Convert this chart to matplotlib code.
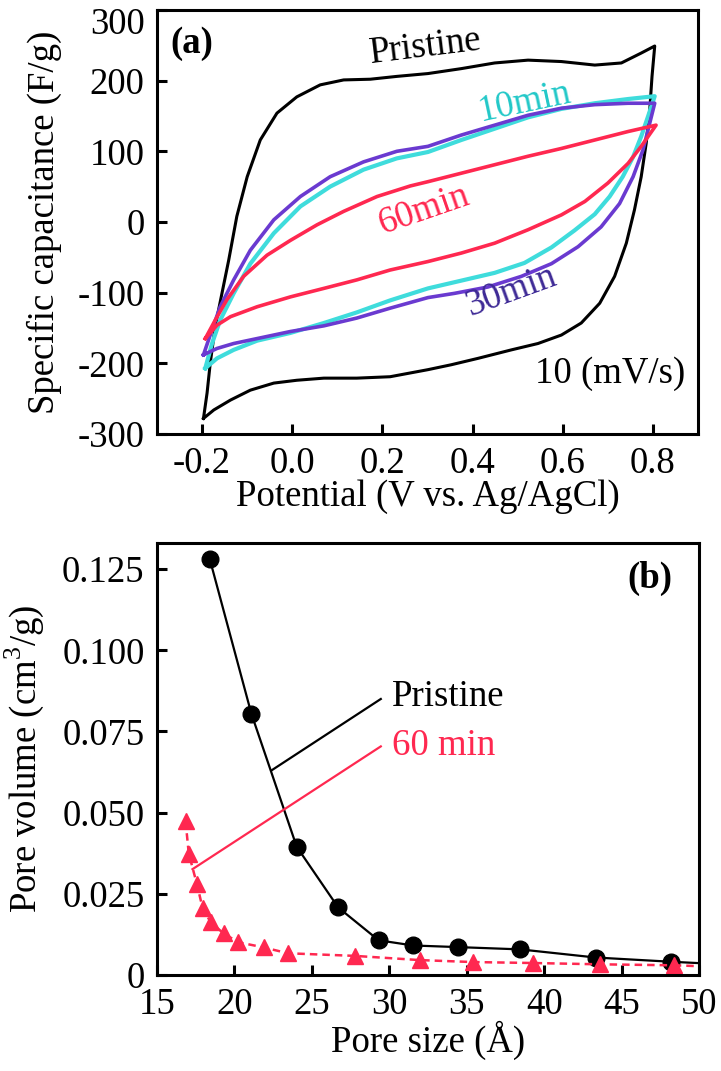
import matplotlib
matplotlib.use("Agg")
import matplotlib.pyplot as plt
import matplotlib.transforms as mtransforms

plt.rcParams['font.family'] = ['Liberation Serif', 'DejaVu Serif']
plt.rcParams['mathtext.fontset'] = 'custom'
plt.rcParams['mathtext.rm'] = 'Liberation Serif'

# ---------------- Panel (a) CV data (closed loops) ----------------
pristine_v = [-0.197, -0.189, -0.182, -0.171, -0.156, -0.141, -0.123, -0.100, -0.071, -0.034,
              0.010, 0.062, 0.114, 0.173, 0.232, 0.301, 0.375, 0.449, 0.523, 0.597, 0.671,
              0.730, 0.774, 0.804,
              0.798, 0.793, 0.785, 0.774, 0.759, 0.741, 0.715, 0.682, 0.641, 0.597, 0.545,
              0.486, 0.412, 0.353, 0.301, 0.217, 0.143, 0.070, 0.010, -0.041, -0.093,
              -0.137, -0.174, -0.197]
pristine_c = [-278, -242, -200, -148, -101, -54, 8, 64, 116, 154,
              177, 194, 201, 202, 206, 210, 217, 225, 229, 227, 222,
              225, 239, 249,
              206, 159, 111, 64, 17, -30, -77, -115, -143, -160, -172,
              -181, -193, -202, -209, -219, -221, -221, -224, -228, -238,
              -252, -266, -278]

min10_v = [-0.193, -0.178, -0.160, -0.130, -0.093, -0.041, 0.018, 0.084, 0.158, 0.232,
           0.301, 0.375, 0.449, 0.523, 0.597, 0.671, 0.745, 0.804,
           0.789, 0.774, 0.756, 0.733, 0.704, 0.671, 0.626, 0.575, 0.515, 0.449, 0.375,
           0.301, 0.217, 0.143, 0.070, -0.004, -0.078, -0.130, -0.167, -0.193]
min10_c = [-207, -172, -139, -101, -59, -16, 22, 50, 74, 90,
           99, 116, 132, 148, 160, 168, 174, 178,
           149, 121, 92, 64, 36, 11, -12, -36, -58, -72, -83,
           -94, -111, -128, -143, -157, -168, -181, -193, -207]

min30_v = [-0.197, -0.182, -0.160, -0.130, -0.093, -0.041, 0.018, 0.084, 0.158, 0.232,
           0.301, 0.375, 0.449, 0.523, 0.597, 0.671, 0.745, 0.804,
           0.793, 0.778, 0.756, 0.726, 0.685, 0.634, 0.575, 0.508, 0.434, 0.360,
           0.301, 0.217, 0.143, 0.070, -0.004, -0.078, -0.130, -0.167, -0.197]
min30_c = [-188, -160, -120, -82, -40, 3, 36, 64, 85, 100,
           107, 123, 137, 151, 161, 166, 168, 168,
           140, 102, 64, 26, -7, -35, -59, -77, -92, -101,
           -107, -122, -136, -147, -155, -165, -172, -179, -188]

min60_v = [-0.193, -0.171, -0.145, -0.108, -0.056, -0.004, 0.055, 0.114, 0.188, 0.262,
           0.301, 0.375, 0.449, 0.523, 0.597, 0.671, 0.745, 0.807,
           0.774, 0.745, 0.700, 0.649, 0.597, 0.523, 0.449, 0.375,
           0.301, 0.217, 0.143, 0.070, -0.004, -0.078, -0.137, -0.167, -0.193]
min60_c = [-165, -139, -110, -77, -47, -26, -4, 15, 36, 51,
           57, 69, 81, 93, 104, 116, 128, 137,
           107, 83, 55, 29, 10, -11, -30, -44,
           -56, -68, -82, -94, -106, -120, -134, -146, -165]

# ---------------- Panel (b) pore size distribution ----------------
pristine_size = [18.41, 21.09, 24.02, 26.70, 29.31, 31.54, 34.45, 38.45, 43.32, 48.16]
pristine_vol = [0.128, 0.0805, 0.0395, 0.0208, 0.0107, 0.0091, 0.0086, 0.0079, 0.0054, 0.0041]
pristine_tail_size = [48.16, 52.0]
pristine_tail_vol = [0.0041, 0.0032]

min60_size = [16.84, 17.05, 17.58, 17.94, 18.47, 19.30, 20.25, 21.89, 23.46, 27.77,
              31.98, 35.40, 39.31, 43.62, 48.37]
min60_vol = [0.0475, 0.0374, 0.0279, 0.0207, 0.0162, 0.0128, 0.0101, 0.0085, 0.0067, 0.0059,
             0.0046, 0.0040, 0.0037, 0.0033, 0.0030]
min60_tail_size = [48.37, 52.0]
min60_tail_vol = [0.0030, 0.0024]

xticks_a = [-0.2, 0.0, 0.2, 0.4, 0.6, 0.8]
xticklabels_a = ['-0.2', '0.0', '0.2', '0.4', '0.6', '0.8']
yticks_a = [-300, -200, -100, 0, 100, 200, 300]
xticks_b = [15, 20, 25, 30, 35, 40, 45, 50]
yticks_b = [0, 0.025, 0.050, 0.075, 0.100, 0.125]
yticklabels_b = ['0', '0.025', '0.050', '0.075', '0.100', '0.125']

RED = '#ff2850'
CYAN = '#3fdcdc'
PURPLE = '#6a3ad0'

fig = plt.figure(figsize=(7.21, 10.71), dpi=100)
ax1 = fig.add_axes([0.2178, 0.5948, 0.7503, 0.3959])
ax2 = fig.add_axes([0.2178, 0.0896, 0.7517, 0.4033])

FS = 26.5
for ax in (ax1, ax2):
    for s in ax.spines.values():
        s.set_linewidth(2.2)
    ax.tick_params(direction='in', length=7, width=2.2, labelsize=FS,
                   top=False, right=False)
    ax.tick_params(axis='y', pad=9)
    ax.tick_params(axis='x', pad=9)

# Panel (a)
ax1.plot(pristine_v, pristine_c, color='black', lw=2.2, solid_joinstyle='round')
ax1.plot(min10_v, min10_c, color=CYAN, lw=3.0, solid_joinstyle='round')
ax1.plot(min30_v, min30_c, color=PURPLE, lw=2.6, solid_joinstyle='round')
ax1.plot(min60_v, min60_c, color=RED, lw=2.6, solid_joinstyle='round')
ax1.set_xlim(-0.3, 0.9)
ax1.set_ylim(-300, 300)
ax1.set_xticks(xticks_a)
ax1.set_xticklabels(xticklabels_a)
ax1.set_yticks(yticks_a)
ax1.set_yticklabels([str(t) for t in yticks_a])
ax1.set_xlabel('Potential (V vs. Ag/AgCl)', fontsize=FS)
ax1.set_ylabel('Specific capacitance (F/g)', fontsize=FS)
ax1.yaxis.set_label_coords(-0.175, 0.5)
ax1.xaxis.set_label_coords(0.5, -0.108)
ax1.xaxis.label.set_va('top')

# nudge the top tick label ("300") slightly down so it stays inside the figure
top_label = ax1.get_yticklabels()[-1]
top_label.set_transform(top_label.get_transform() +
                        mtransforms.ScaledTranslation(0, -8 / 72, fig.dpi_scale_trans))

ax1.text(-0.222, 253, '(a)', fontsize=FS, fontweight='bold', ha='center', va='center')
ax1.text(0.296, 247, 'Pristine', fontsize=FS, ha='center', va='center', rotation=7)
ax1.text(0.515, 170, '10min', fontsize=FS, ha='center', va='center', rotation=12, color='#22c8c8')
ax1.text(0.292, 17, '60min', fontsize=FS, ha='center', va='center', rotation=19, color=RED)
ax1.text(0.486, -98, '30min', fontsize=FS, ha='center', va='center', rotation=20, color='#3e2a96')
ax1.text(0.704, -214, '10 (mV/s)', fontsize=FS, ha='center', va='center')

# Panel (b)
ax2.plot(pristine_tail_size, pristine_tail_vol, color='black', lw=1.6)
ax2.plot(pristine_size, pristine_vol, color='black', lw=1.6, marker='o', markersize=12)
ax2.plot(min60_tail_size, min60_tail_vol, color=RED, lw=1.8, ls=(0, (3, 2)))
ax2.plot(min60_size, min60_vol, color=RED, lw=1.8, ls=(0, (3, 2)), marker='^', markersize=11)
ax2.plot([22.42, 29.45], [0.0631, 0.0850], color='black', lw=1.6)
ax2.plot([17.29, 29.45], [0.0326, 0.0704], color=RED, lw=1.6)
ax2.text(30.2, 0.0856, 'Pristine', fontsize=FS, ha='left', va='center')
ax2.text(30.2, 0.0706, '60 min', fontsize=FS, ha='left', va='center', color=RED)
ax2.text(46.8, 0.122, '(b)', fontsize=FS, fontweight='bold', ha='center', va='center')
ax2.set_xlim(15, 50)
ax2.set_ylim(0, 0.133)
ax2.set_xticks(xticks_b)
ax2.set_xticklabels([str(t) for t in xticks_b])
ax2.set_yticks(yticks_b)
ax2.set_yticklabels(yticklabels_b)
ax2.set_xlabel('Pore size (Å)', fontsize=FS)
ax2.set_ylabel('Pore volume (cm$^3$/g)', fontsize=FS)
ax2.yaxis.set_label_coords(-0.205, 0.5)
ax2.xaxis.set_label_coords(0.5, -0.105)
ax2.xaxis.label.set_va('top')

fig.savefig('out.png', dpi=100)
